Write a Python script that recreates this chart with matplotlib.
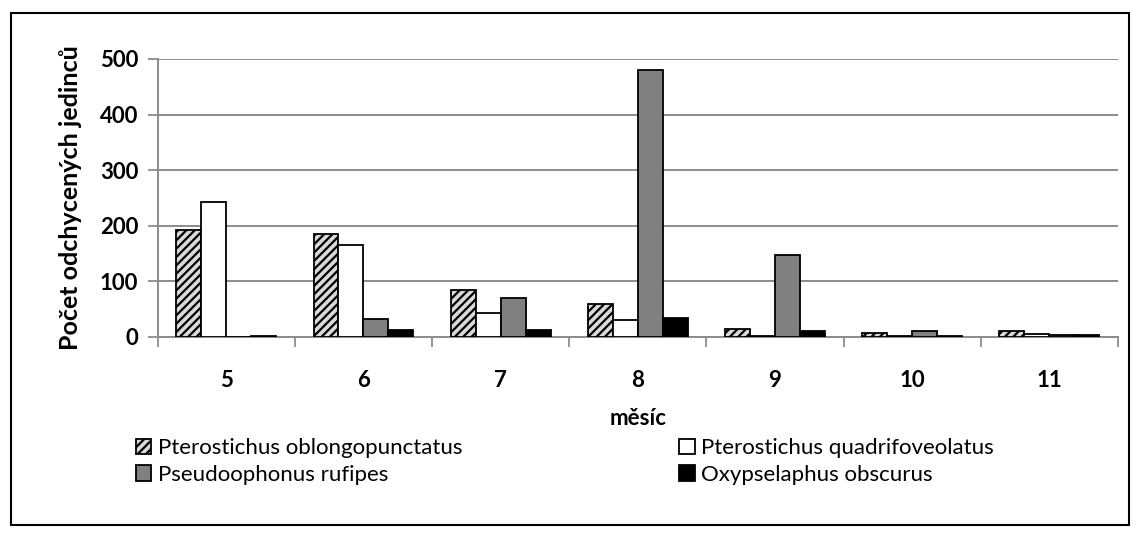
import matplotlib
matplotlib.use("Agg")
import matplotlib.pyplot as plt
import numpy as np
from matplotlib.patches import Rectangle

plt.rcParams['font.family'] = ['Lato', 'DejaVu Sans']
plt.rcParams['hatch.linewidth'] = 1.6

# monthly catches per species
months = ["5", "6", "7", "8", "9", "10", "11"]
species = ["Pterostichus oblongopunctatus", "Pterostichus quadrifoveolatus",
           "Pseudoophonus rufipes", "Oxypselaphus obscurus"]
oblongopunctatus = [192, 185, 85, 59, 14, 7, 11]
quadrifoveolatus = [242, 165, 44, 30, 1, 1, 6]
rufipes = [0, 32, 71, 480, 147, 10, 3]
obscurus = [1, 12, 13, 35, 10, 1, 4]

series = [oblongopunctatus, quadrifoveolatus, rufipes, obscurus]
faces = ["#d9d9d9", "white", "#808080", "black"]
hatches = ["////", None, None, None]

fig = plt.figure(figsize=(11.4, 5.36), dpi=100)
ax = fig.add_axes([0.1383, 0.3713, 0.8424, 0.5187])

x = np.arange(len(months))
w = 0.182
handles = []
for i, vals in enumerate(series):
    b = ax.bar(x + (i - 1.5) * w, vals, w, color=faces[i], edgecolor="black",
               linewidth=1.3, hatch=hatches[i], label=species[i], zorder=3)
    handles.append(b)

ax.set_xlim(-0.5, len(months) - 0.5)
ax.set_ylim(0, 500)
ax.set_yticks(range(0, 501, 100))
ax.yaxis.grid(True, color="#8c8c8c", linewidth=1.4, zorder=0)
ax.set_axisbelow(True)

ax.set_xticks(x)
ax.set_xticklabels(months, fontsize=16, fontweight="bold")
ax.set_xticks(np.arange(-0.5, len(months)), minor=True)
ax.tick_params(axis="x", which="major", length=0, pad=24)
ax.tick_params(axis="x", which="minor", length=7, color="#8c8c8c", width=1.3)
ax.tick_params(axis="y", length=7, color="#8c8c8c", width=1.3, labelsize=16, pad=7)
for lab in ax.get_yticklabels():
    lab.set_fontweight("bold")

for s in ["top", "right"]:
    ax.spines[s].set_visible(False)
for s in ["left", "bottom"]:
    ax.spines[s].set_color("#8c8c8c")
    ax.spines[s].set_linewidth(1.4)

ax.set_xlabel("měsíc", fontsize=16, fontweight="bold", labelpad=12)
ax.set_ylabel("Počet odchycených jedinců", fontsize=18, fontweight="bold", labelpad=13)

order = [handles[0], handles[2], handles[1], handles[3]]
fig.legend(order, [species[0], species[2], species[1], species[3]],
           ncol=2, loc="upper left", bbox_to_anchor=(0.1015, 0.22),
           frameon=False, fontsize=16, handlelength=0.7, handleheight=0.7,
           handletextpad=0.3, columnspacing=9.75, labelspacing=0.3)

fig.patches.append(Rectangle((11 / 1140, 11 / 536), 1118 / 1140, 512 / 536,
                             transform=fig.transFigure, fill=False,
                             edgecolor="black", linewidth=1.5))

fig.savefig("out.png", dpi=100)
